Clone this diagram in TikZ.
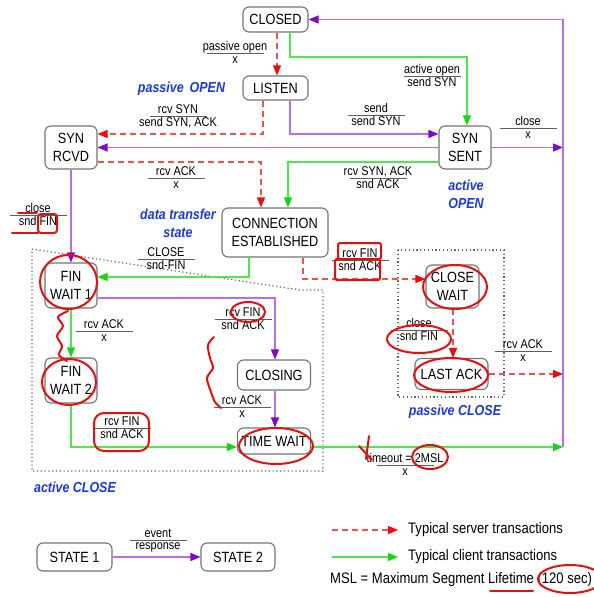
\documentclass[tikz,border=0pt]{standalone}
\usepackage{fontspec}
\setmainfont[FakeStretch=0.86]{Liberation Sans}
\usepackage{colortbl}
\usetikzlibrary{arrows.meta}
\definecolor{srvred}{RGB}{240,80,80}
\definecolor{srvtip}{RGB}{240,10,10}
\definecolor{cligreen}{RGB}{80,230,80}
\definecolor{clitip}{RGB}{20,215,20}
\definecolor{prpl}{RGB}{185,110,230}
\definecolor{prpldark}{RGB}{125,10,200}
\definecolor{bluet}{RGB}{25,55,230}
\definecolor{boxgray}{RGB}{115,115,115}
\definecolor{rulegray}{RGB}{95,95,95}
\definecolor{annot}{RGB}{230,15,15}
\arrayrulecolor{rulegray}
\setlength\arrayrulewidth{0.9pt}
\renewcommand\arraystretch{0}
\newcommand\tlab[2]{\begin{tabular}{@{}c@{}}\rule[-2.5pt]{0pt}{11pt}\makebox[57pt]{#1}\\\hline\rule[-3pt]{0pt}{12pt}\makebox[57pt]{#2}\end{tabular}}
\tikzset{
  st/.style={draw=boxgray, line width=1.1pt, rounded corners=6pt, fill=white, inner sep=0pt, align=center, font=\fontsize{14.8}{18}\selectfont},
  lbl/.style={inner sep=0pt, font=\fontsize{12.7}{14}\selectfont},
  bl/.style={inner sep=0pt, align=center, text=bluet, font=\fontsize{14.5}{18}\selectfont\bfseries\itshape},
  legt/.style={inner sep=0pt, anchor=west, font=\fontsize{15.2}{18}\selectfont},
  srv/.style={draw=srvred, line width=1.1pt, dash pattern=on 6pt off 4pt, -{Triangle[length=10pt,width=8pt,color=srvtip]}},
  cli/.style={draw=cligreen, line width=1.1pt, -{Triangle[length=10pt,width=8pt,color=clitip]}},
  prc/.style={draw=prpl, line width=1.1pt, -{Triangle[length=10pt,width=8pt,color=prpldark]}},
  region/.style={draw=black!60, line width=1.2pt, dash pattern=on 1.2pt off 2.6pt},
  ann/.style={draw=annot, line width=2pt, line cap=round, line join=round}
}
\begin{document}
\begin{tikzpicture}[x=1pt,y=-1pt]
\useasboundingbox (0,0) rectangle (594,597);
% dotted regions
\draw[region] (32,249) -- (300,290) -- (323,290) -- (323,471) -- (32,471) -- cycle;
\draw[region] (398,250) rectangle (504,397);
% states
\node[st, minimum width=65pt, minimum height=25pt] (CLOSED) at (275.5,19.5) {CLOSED};
\node[st, minimum width=65pt, minimum height=24pt] (LISTEN) at (275.5,88) {LISTEN};
\node[st, minimum width=52pt, minimum height=43pt] (SRCVD) at (71,147.5) {SYN\\RCVD};
\node[st, minimum width=52pt, minimum height=43pt] (SSENT) at (465,147.5) {SYN\\SENT};
\node[st, minimum width=106pt, minimum height=49pt] (EST) at (275,232.5) {CONNECTION\\ESTABLISHED};
\node[st, minimum width=52pt, minimum height=45pt] (FW1) at (71,285.5) {FIN\\WAIT 1};
\node[st, minimum width=52pt, minimum height=45pt] (FW2) at (71,380.5) {FIN\\WAIT 2};
\node[st, minimum width=73pt, minimum height=30pt] (CLOSING) at (274,375) {CLOSING};
\node[st, minimum width=73pt, minimum height=26pt] (TW) at (274,441) {TIME WAIT};
\node[st, minimum width=53pt, minimum height=43pt] (CW) at (452.5,286.5) {CLOSE\\WAIT};
\node[st, minimum width=73pt, minimum height=31pt] (LA) at (451.5,374) {LAST ACK};
\node[st, minimum width=75pt, minimum height=28pt] (S1) at (74.5,557) {STATE 1};
\node[st, minimum width=74pt, minimum height=28pt] (S2) at (238,557) {STATE 2};
% rail
\coordinate (RAIL) at (563,0);
\coordinate (RB) at (563,447);
\coordinate (GB) at (290,57);
% transitions
\draw[srv] (277,0 |- CLOSED.south) -- (277,0 |- LISTEN.north);
\draw[cli] (290,0 |- CLOSED.south) -- (GB) -| (467,0 |- SSENT.north);
\draw[prc] (290,0 |- LISTEN.south) |- (SSENT.west |- 0,134);
\draw[srv] (263,0 |- LISTEN.south) |- (SRCVD.east |- 0,134);
\draw[prc] (SSENT.west) -- (SRCVD.east);
\draw[srv] (SRCVD.east |- 0,162) -| (261,0 |- EST.north);
\draw[cli] (SSENT.west |- 0,162) -| (288,0 |- EST.north);
\draw[prc] (SSENT.east) -- (RAIL |- SSENT.east);
\draw[prc] (RB) |- (CLOSED.east);
\draw[prc] (SRCVD.south) -- (FW1.north);
\draw[cli] (249,0 |- EST.south) |- (FW1.east |- 0,277);
\draw[srv] (303,0 |- EST.south) |- (CW.west |- 0,279);
\draw[prc] (FW1.east |- 0,298) -| (275,0 |- CLOSING.north);
\draw[cli] (FW1.south) -- (FW2.north);
\draw[cli] (FW2.south) |- (TW.west |- 0,447);
\draw[prc] (275,0 |- CLOSING.south) -- (275,0 |- TW.north);
\draw[cli] (TW.east |- 0,447) -- (RB);
\draw[srv] (453,0 |- CW.south) -- (453,0 |- LA.north);
\draw[srv] (LA.east) -- (RAIL |- LA.east);
% transition labels
\node[lbl] (l1) at (235,54) {\tlab{passive open}{x}};
\node[lbl] (l2) at (432,77) {\tlab{active open}{send SYN}};
\node[lbl] (l3) at (178,117) {\tlab{rcv SYN}{send SYN, ACK}};
\node[lbl] (l4) at (376,116) {\tlab{send}{send SYN}};
\node[lbl] (l5) at (176,179) {\tlab{rcv ACK}{x}};
\node[lbl] (l6) at (378,179) {\tlab{rcv SYN, ACK}{snd ACK}};
\node[lbl] (l7) at (528,129) {\tlab{close}{x}};
\node[lbl] (l8) at (38,216) {\tlab{close}{snd FIN}};
\node[lbl] (l9) at (166,260) {\tlab{CLOSE}{snd-FIN}};
\node[lbl] (l10) at (360,261) {\tlab{rcv FIN}{snd ACK}};
\node[lbl] (l11) at (243,320) {\tlab{rcv FIN}{snd ACK}};
\node[lbl] (l12) at (104,332) {\tlab{rcv ACK}{x}};
\node[lbl] (l13) at (122,429) {\tlab{rcv FIN}{snd ACK}};
\node[lbl] (l14) at (242,408) {\tlab{rcv ACK}{x}};
\node[lbl] (l15) at (419,331) {\tlab{close}{snd FIN}};
\node[lbl] (l16) at (523,352) {\tlab{rcv ACK}{x}};
\node[lbl] (l17) at (405,466) {\tlab{timeout = 2MSL}{x}};
\node[lbl] (l18) at (158,541) {\tlab{event}{response}};
% blue titles
\node[bl] (b1) at (181.5,89) {passive\hspace{6pt}OPEN};
\node[bl] (b2) at (466,194) {active\\OPEN};
\node[bl] (b3) at (178,223) {data transfer\\state};
\node[bl] (b4) at (455,412) {passive CLOSE};
\node[bl] (b5) at (75,487) {active CLOSE};
% legend
\draw[prc] (S1.east) -- (S2.west);
\coordinate (LRa) at (332,530);
\coordinate (LRb) at (398,530);
\coordinate (LGa) at (332,557);
\coordinate (LGb) at (398,557);
\draw[srv] (LRa) -- (LRb);
\draw[cli] (LGa) -- (LGb);
\node[legt] (t1) at (408,530) {Typical server transactions};
\node[legt] (t2) at (408,557) {Typical client transactions};
\node[legt] (t3) at (330,580) {MSL = Maximum Segment Lifetime (120 sec)};
% hand-drawn red annotations
\draw[ann, rounded corners=3pt] (38,214) rectangle (57,233);
\draw[ann] (12,233) -- (38,233);
\draw[ann] (18,213) -- (37,213);
\draw[ann] (68.5,282) ellipse [x radius=28.5, y radius=27];
\draw[ann] plot[smooth] coordinates {(68,311) (58,317) (63,326) (57,336) (62,346) (59,355) (67,361)};
\draw[ann] (69,382) ellipse [x radius=27, y radius=23];
\draw[ann] (248,312) ellipse [x radius=17, y radius=10];
\draw[ann] plot[smooth] coordinates {(214,337) (208,345) (210,358) (213,368) (207,378) (211,392) (215,402) (221,408)};
\draw[ann, rounded corners=10pt] (94,413) rectangle (149,451);
\draw[ann] (276,446) ellipse [x radius=37, y radius=18];
\draw[ann, rounded corners=2pt] (338,243) rectangle (381,259);
\draw[ann, rounded corners=2pt] (335,259) rectangle (380,280);
\draw[ann] (455,287) ellipse [x radius=32, y radius=22];
\draw[ann] (419,339) ellipse [x radius=32, y radius=14];
\draw[ann] (451,375) ellipse [x radius=37, y radius=17];
\draw[ann] (359,446) -- (372,460);
\draw[ann] (369,436) -- (366,459);
\draw[ann] (430,457) ellipse [x radius=18, y radius=12];
\draw[ann] (570,579) ellipse [x radius=32, y radius=14];
\draw[ann] (490,591) -- (533,591);
\end{tikzpicture}
\end{document}
